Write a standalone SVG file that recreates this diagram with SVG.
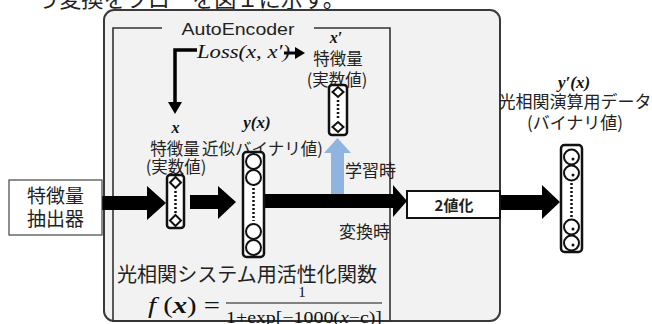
<svg xmlns="http://www.w3.org/2000/svg" width="652" height="324" viewBox="0 0 652 324">
<defs>
<style>
.jp{font-family:"Noto Sans CJK JP","Noto Sans",sans-serif;fill:#222}
.lat{font-family:"Liberation Sans","Noto Sans",sans-serif;fill:#222}
.math{font-family:"Liberation Serif","DejaVu Serif",serif;fill:#111}
.col{fill:#fff;stroke:#111;stroke-width:2.5}
.cir{fill:#fff;stroke:#111;stroke-width:2}
.dot{stroke:#111;stroke-width:2.5;stroke-dasharray:2 2;fill:none}
.blk{fill:#000}
</style>
</defs>
<rect width="652" height="324" fill="#fff"/>
<text class="jp" x="37" y="7" font-size="22" textLength="308" lengthAdjust="spacingAndGlyphs">う変換をフローを図１に示す。</text>

<g id="outer">
<rect x="104" y="10" width="396" height="311" rx="10" fill="#f2f2f2" stroke="#3a3a3a" stroke-width="2"/>
</g>
<g id="autoencoder">
<path d="M162,28 H113 V321 H390 V28 H314" fill="none" stroke="#333" stroke-width="1.6"/>
<text class="lat" x="238" y="35" font-size="17" text-anchor="middle" textLength="113" lengthAdjust="spacingAndGlyphs">AutoEncoder</text>
</g>

<g id="connectors">
<polygon class="blk" points="102,196 147,196 147,186 166,203 147,220 147,210 102,210"/>
<polygon class="blk" points="190,195 218,195 218,186 236,202 218,219 218,209 190,209"/>
<polygon class="blk" points="264,194 393,194 393,185 407,201 393,217 393,208 264,208"/>
<polygon class="blk" points="500,195 542,195 542,185 560,202 542,219 542,210 500,210"/>
<polygon fill="#8fb4e0" points="331,194 331,153 324,153 337.5,138 351,153 344,153 344,194"/>
<path d="M197,50 H175 V103" fill="none" stroke="#000" stroke-width="3.5"/>
<polygon class="blk" points="168,102 182,102 175,114"/>
<path d="M284,53 H297" fill="none" stroke="#000" stroke-width="3"/>
<polygon class="blk" points="295,47 305,53 295,59"/>
</g>

<g id="loss">
<text class="math" x="197" y="58" font-size="19" font-style="italic" textLength="93" lengthAdjust="spacingAndGlyphs">Loss(x, x′)</text>
</g>

<g id="extractor">
<rect x="9" y="180" width="93" height="55" fill="#fff" stroke="#444" stroke-width="1.2"/>
<text class="jp" x="55.5" y="203" font-size="19" text-anchor="middle">特徴量</text>
<text class="jp" x="55.5" y="226" font-size="19" text-anchor="middle">抽出器</text>
</g>

<g id="x-node">
<text class="math" x="175.5" y="133" font-size="16" font-style="italic" font-weight="bold" text-anchor="middle">x</text>
<text class="jp" x="175" y="155" font-size="16.5" text-anchor="middle">特徴量</text>
<text class="jp" x="176" y="173" font-size="16.5" text-anchor="middle">(実数値)</text>
<rect class="col" x="167" y="175" width="17" height="53" rx="3"/>
<polygon class="cir" points="175.5,177 181,182.5 175.5,188 170,182.5"/>
<polygon class="cir" points="175.5,215 181,220.5 175.5,226 170,220.5"/>
<line class="dot" x1="175.5" y1="191" x2="175.5" y2="213"/>
</g>

<g id="y-node">
<text class="math" x="257" y="128" font-size="17" font-style="italic" font-weight="bold" text-anchor="middle">y(x)</text>
<text class="jp" x="202" y="155" font-size="16.5">近似バイナリ値)</text>
<rect class="col" x="243" y="152" width="21" height="105" rx="3.5"/>
<circle class="cir" cx="253.5" cy="161.5" r="7.5"/>
<circle class="cir" cx="253.5" cy="177.5" r="7.5"/>
<circle class="cir" cx="253.5" cy="231.5" r="7.5"/>
<circle class="cir" cx="253.5" cy="247.5" r="7.5"/>
<line class="dot" x1="253.5" y1="188" x2="253.5" y2="221"/>
</g>

<g id="xp-node">
<text class="math" x="336" y="43" font-size="16" font-style="italic" font-weight="bold" text-anchor="middle">x′</text>
<text class="jp" x="338" y="65" font-size="16.5" text-anchor="middle">特徴量</text>
<text class="jp" x="337" y="86" font-size="16.5" text-anchor="middle">(実数値)</text>
<rect class="col" x="329" y="85" width="18" height="50" rx="3"/>
<polygon class="cir" points="338,87 343.5,92 338,97 332.5,92"/>
<polygon class="cir" points="338,122 343.5,127 338,132 332.5,127"/>
<line class="dot" x1="338" y1="100" x2="338" y2="119"/>
</g>

<g id="labels">
<text class="jp" x="345" y="177" font-size="17">学習時</text>
<text class="jp" x="390" y="238" font-size="17" text-anchor="end">変換時</text>
</g>

<g id="binarize">
<rect x="407" y="191" width="93" height="27" fill="#fff" stroke="#111" stroke-width="2"/>
<text class="jp" x="454" y="210.5" font-size="15" font-weight="bold" text-anchor="middle">2値化</text>
</g>

<g id="yp-node">
<text class="math" x="574" y="88" font-size="17" font-style="italic" font-weight="bold" text-anchor="middle">y′(x)</text>
<text class="jp" x="575" y="108" font-size="17" text-anchor="middle" textLength="153" lengthAdjust="spacingAndGlyphs">光相関演算用データ</text>
<text class="jp" x="575" y="129" font-size="17" text-anchor="middle">(バイナリ値)</text>
<rect class="col" x="561" y="145" width="21" height="107" rx="3.5"/>
<circle class="cir" cx="571.5" cy="157" r="7.5"/>
<circle class="cir" cx="571.5" cy="173" r="7.5"/>
<circle class="cir" cx="571.5" cy="227" r="7.5"/>
<circle class="cir" cx="571.5" cy="243" r="7.5"/>
<circle cx="573" cy="159" r="1.5" fill="#111"/>
<circle cx="573" cy="175" r="1.5" fill="#111"/>
<circle cx="573" cy="229" r="1.5" fill="#111"/>
<circle cx="573" cy="245" r="1.5" fill="#111"/>
<line class="dot" x1="571.5" y1="183" x2="571.5" y2="217"/>
</g>

<g id="activation">
<text class="jp" x="117" y="282" font-size="20" textLength="260" lengthAdjust="spacingAndGlyphs">光相関システム用活性化関数</text>
<text class="math" x="148" y="313" font-size="23" textLength="72" lengthAdjust="spacingAndGlyphs"><tspan font-style="italic">f</tspan> (<tspan font-style="italic" font-weight="bold">x</tspan>) =</text>
<line x1="226" y1="303" x2="382" y2="303" stroke="#111" stroke-width="1.2"/>
<text class="math" x="302" y="297" font-size="15" text-anchor="middle">1</text>
<text class="math" x="226" y="323" font-size="16" textLength="156" lengthAdjust="spacingAndGlyphs">1+exp[−1000(<tspan font-style="italic">x</tspan>−c)]</text>
</g>
</svg>
